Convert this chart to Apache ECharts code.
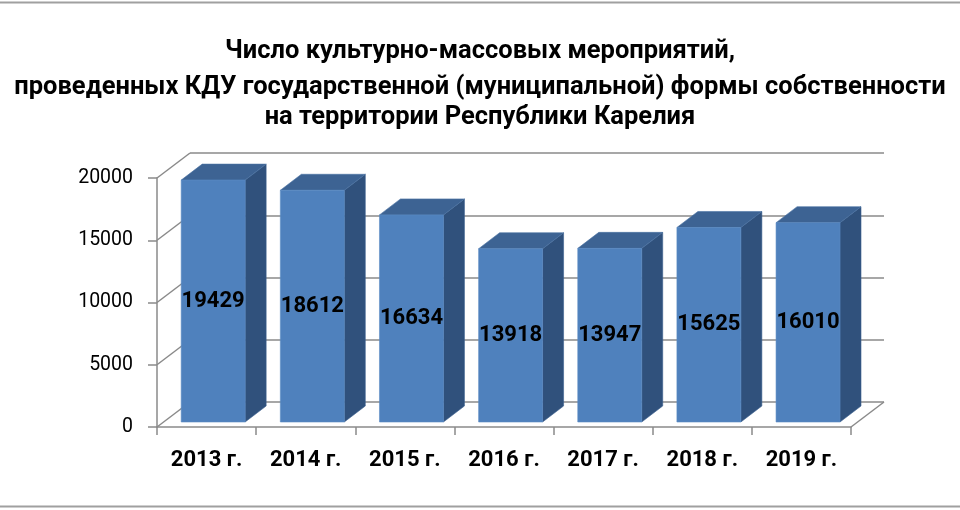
<!DOCTYPE html>
<html>
<head>
<meta charset="utf-8">
<script src="https://cdn.jsdelivr.net/npm/echarts@6/dist/echarts.min.js"></script>
<style>
html,body{margin:0;padding:0;background:#fff;}
#chart{width:960px;height:510px;}
</style>
</head>
<body>
<div id="chart"></div>
<script>
const titleLines = [
  'Число культурно-массовых мероприятий,',
  'проведенных КДУ государственной (муниципальной) формы собственности',
  'на территории Республики Карелия'
];
const categories = ['2013 г.', '2014 г.', '2015 г.', '2016 г.', '2017 г.', '2018 г.', '2019 г.'];
const values = [19429, 18612, 16634, 13918, 13947, 15625, 16010];
const yMin = 0, yMax = 20000, yStep = 5000;
const yTickValues = [0, 5000, 10000, 15000, 20000];

const FONT = 'Roboto, "Noto Sans", sans-serif';
const GRID_L = 157, GRID_T = 178, GRID_W = 694, GRID_H = 249;
const WALL_DX = 33, WALL_DY = -25;    // depth of the chart box
const BAR_FX = 6.6, BAR_FY = -5;      // front face offset of bars
const BAR_DX = 21, BAR_DY = -16;      // bar depth
const BAR_W = 0.645;                  // fraction of band
const LINE = '#8a8a8a';
const FRONT = '#4f81bd', SIDE = '#30517c', TOP = '#3d6393';
const TITLE_Y = [52, 88, 118];

const chart = echarts.init(document.getElementById('chart'), null, {renderer: 'canvas'});

const option = {
  backgroundColor: '#fff',
  animation: false,
  graphic: [
    {type: 'line', shape: {x1: 0, y1: 2.5, x2: 960, y2: 2.5}, style: {stroke: '#a0a0a0', lineWidth: 2}},
    {type: 'line', shape: {x1: 0, y1: 506.5, x2: 960, y2: 506.5}, style: {stroke: '#a0a0a0', lineWidth: 2}}
  ].concat(titleLines.map((t, k) => ({
    type: 'text', x: 480, y: TITLE_Y[k],
    style: {text: t, align: 'center', verticalAlign: 'middle',
      fontFamily: FONT, fontSize: 25.5, fontWeight: 'bold', fill: '#000'}
  }))),
  grid: [
    {left: GRID_L, top: GRID_T, width: GRID_W, height: GRID_H, containLabel: false, outerBoundsMode: 'none'},
    {left: GRID_L + WALL_DX, top: GRID_T + WALL_DY, width: GRID_W, height: GRID_H, containLabel: false, outerBoundsMode: 'none'}
  ],
  xAxis: [
    {
      type: 'category', gridIndex: 0, data: categories, boundaryGap: true,
      axisLine: {show: true, lineStyle: {color: LINE, width: 1.5}},
      axisTick: {show: true, length: 8, interval: 0, alignWithLabel: false, lineStyle: {color: LINE, width: 1.5}},
      axisLabel: {interval: 0, margin: 22, fontFamily: FONT, fontSize: 22, fontWeight: 'bold', color: '#000'},
      splitLine: {show: false}
    },
    {
      type: 'category', gridIndex: 1, data: categories, boundaryGap: true,
      axisLine: {show: false}, axisTick: {show: false}, axisLabel: {show: false}, splitLine: {show: false}
    }
  ],
  yAxis: [
    {
      type: 'value', gridIndex: 0, min: yMin, max: yMax, interval: yStep,
      axisLine: {show: true, lineStyle: {color: LINE, width: 1.5}},
      axisTick: {show: true, length: 9, lineStyle: {color: LINE, width: 1.5}},
      axisLabel: {margin: 24, fontFamily: FONT, fontSize: 19.5, color: '#000', formatter: v => String(v)},
      splitLine: {show: false}
    },
    {
      type: 'value', gridIndex: 1, min: yMin, max: yMax, interval: yStep,
      axisLine: {show: false}, axisTick: {show: false}, axisLabel: {show: false},
      splitLine: {show: true, lineStyle: {color: LINE, width: 1.5}}
    }
  ],
  series: [
    {
      // left side wall and floor edges
      type: 'custom', xAxisIndex: 0, yAxisIndex: 0, z: 1, silent: true,
      data: yTickValues.map(v => [0, v]),
      renderItem(params, api) {
        const v = api.value(1);
        const p = api.coord([0, v]);
        const bw = api.size([1, 0])[0];
        const x = p[0] - bw / 2;
        const children = [{
          type: 'line',
          shape: {x1: x, y1: p[1], x2: x + WALL_DX, y2: p[1] + WALL_DY},
          style: {stroke: LINE, lineWidth: 1.5}
        }];
        if (v === 0) {
          const q = api.coord([categories.length - 1, 0]);
          const xr = q[0] + bw / 2;
          children.push({
            type: 'line',
            shape: {x1: xr, y1: q[1], x2: xr + WALL_DX, y2: q[1] + WALL_DY},
            style: {stroke: LINE, lineWidth: 1.5}
          });
        }
        return {type: 'group', children};
      }
    },
    {
      type: 'custom', xAxisIndex: 0, yAxisIndex: 0, z: 3,
      data: values.map((v, i) => [i, v]),
      renderItem(params, api) {
        const i = api.value(0), v = api.value(1);
        const base = api.coord([i, 0]);
        const top = api.coord([i, v]);
        const bw = api.size([1, 0])[0];
        const fw = bw * BAR_W;
        const x0 = base[0] - fw / 2 + BAR_FX;
        const x1 = x0 + fw;
        const yb = base[1] + BAR_FY;
        const yt = top[1] + BAR_FY;
        return {
          type: 'group',
          children: [
            {type: 'polygon', shape: {points: [[x1, yt], [x1 + BAR_DX, yt + BAR_DY], [x1 + BAR_DX, yb + BAR_DY], [x1, yb]]},
              style: {fill: SIDE, stroke: '#3a5f8f', lineWidth: 0.6}},
            {type: 'polygon', shape: {points: [[x0, yt], [x1, yt], [x1 + BAR_DX, yt + BAR_DY], [x0 + BAR_DX, yt + BAR_DY]]},
              style: {fill: TOP, stroke: '#4a72a3', lineWidth: 0.6}},
            {type: 'rect', shape: {x: x0, y: yt, width: fw, height: yb - yt},
              style: {fill: FRONT, stroke: '#5b8bc4', lineWidth: 0.6}},
            {type: 'text', style: {
              x: (x0 + x1) / 2, y: (yt + yb) / 2, text: String(v),
              align: 'center', verticalAlign: 'middle',
              fontFamily: FONT, fontSize: 22, fontWeight: 'bold', fill: '#000'
            }}
          ]
        };
      }
    }
  ]
};
chart.setOption(option);
</script>
</body>
</html>
